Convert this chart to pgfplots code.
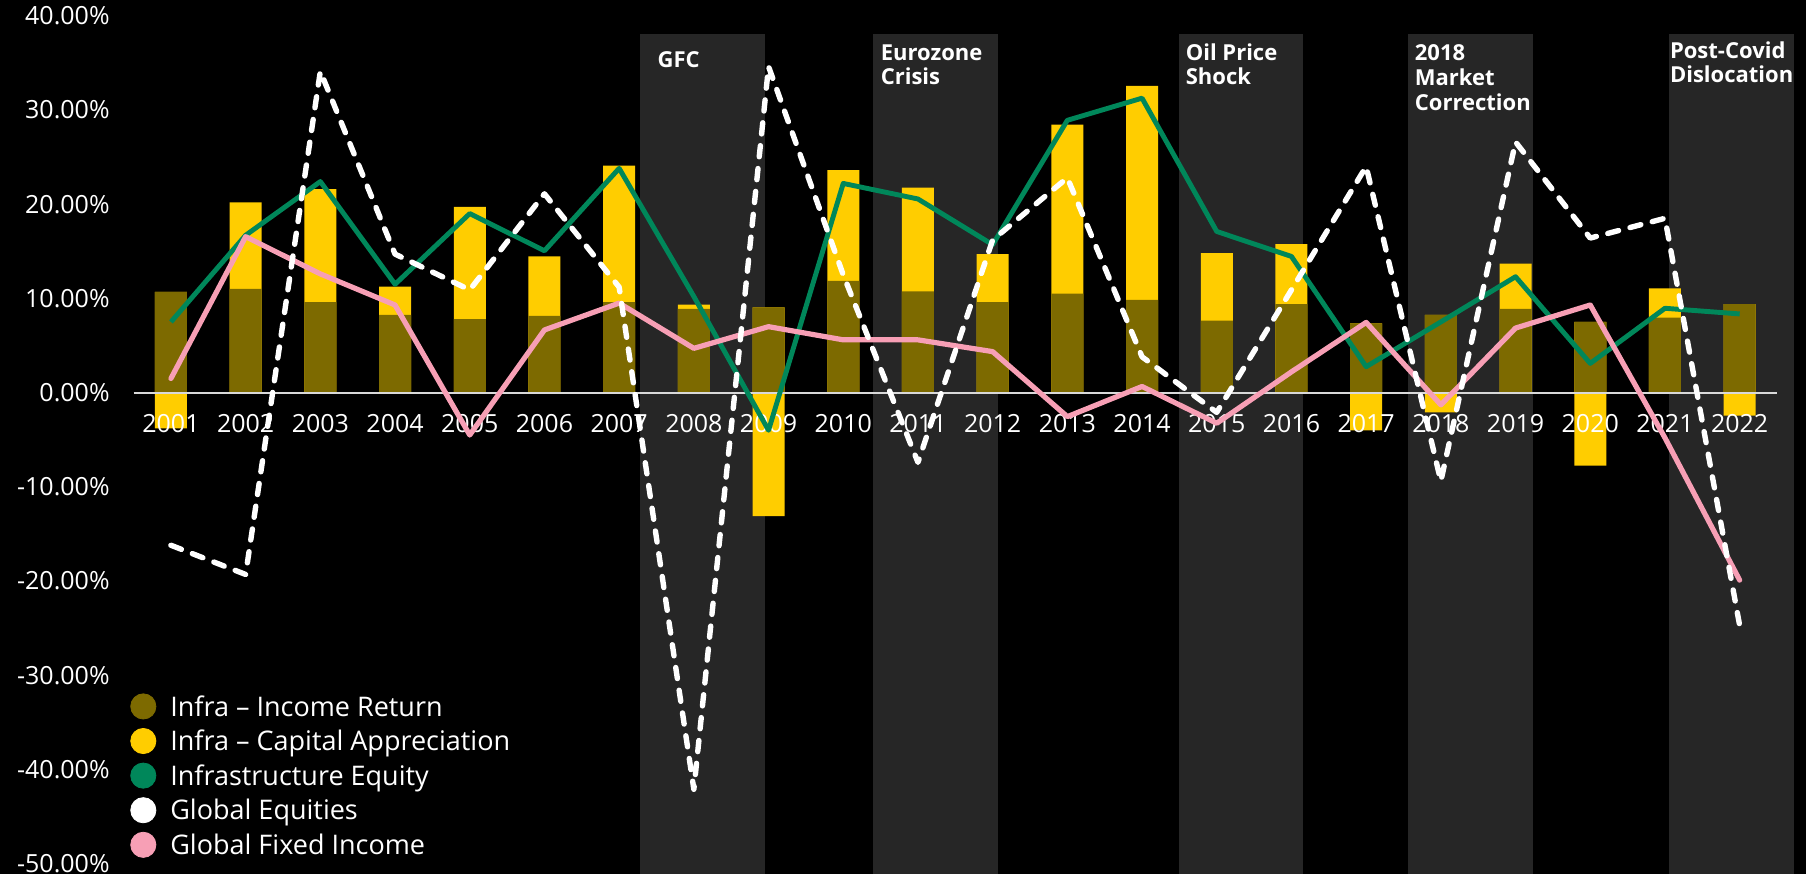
\documentclass[border=0pt]{standalone}
\usepackage{fontspec}
\setmainfont{Open Sans}
\usepackage{pgfplots}
\usepackage{pgfplotstable}
\pgfplotsset{compat=1.18}
\definecolor{incomec}{HTML}{7D6A00}
\definecolor{capc}{HTML}{FFCD00}
\definecolor{greenc}{HTML}{00875A}
\definecolor{pinkc}{HTML}{F79FB5}
\definecolor{bandc}{HTML}{262626}
\definecolor{zeroc}{HTML}{D9D9D9}
\pagecolor{black}

\pgfplotstableread{
idx inc cap infra geq gfi
0 10.7 -3.8 7.5 -16.2 1.5
1 11.0 9.2 16.7 -19.3 16.55
2 9.6 12.0 22.4 34.1 12.6
3 8.25 3.0 11.5 14.7 9.3
4 7.8 11.9 19.0 10.9 -4.5
5 8.15 6.3 15.05 21.1 6.65
6 9.6 14.5 23.8 11.2 9.5
7 8.9 0.45 10.2 -42.1 4.7
8 9.05 -13.1 -4.0 34.6 7.0
9 11.85 11.75 22.2 12.5 5.6
10 10.75 11.0 20.55 -7.4 5.6
11 9.6 5.1 15.7 16.2 4.35
12 10.5 17.95 28.9 22.8 -2.55
13 9.85 22.7 31.25 3.8 0.65
14 7.65 7.15 17.1 -2.1 -3.25
15 9.4 6.35 14.45 10.9 2.2
16 7.35 -4.0 2.75 24.0 7.45
17 8.25 -2.1 7.5 -9.4 -1.3
18 8.9 4.8 12.3 26.6 6.85
19 7.5 -7.75 3.1 16.4 9.3
20 7.95 3.1 8.95 18.5 -4.8
21 9.4 -2.45 8.35 -24.7 -19.9
}\data

\begin{document}
\begin{tikzpicture}
\begin{axis}[
  set layers,
  scale only axis,
  width=821.7pt, height=437pt,
  xmin=-0.5, xmax=21.5, ymin=-51.09, ymax=41.67,
  clip=false,
  axis lines*=left,
  axis line style={draw=none},
  major tick length=0pt,
  tick style={draw=none},
  xtick={0,...,21},
  xticklabels={2001,2002,2003,2004,2005,2006,2007,2008,2009,2010,2011,2012,2013,2014,2015,2016,2017,2018,2019,2020,2021,2022},
  ytick={-50,-40,-30,-20,-10,0,10,20,30,40},
  yticklabels={-50.00\%,-40.00\%,-30.00\%,-20.00\%,-10.00\%,0.00\%,10.00\%,20.00\%,30.00\%,40.00\%},
  tick label style={font=\fontsize{12.5}{15}\selectfont, text=white},
  xticklabel style={anchor=center, yshift=225.35pt},
  yticklabel style={anchor=east, inner sep=0pt, xshift=-11.8pt},
  legend cell align=left,
  legend style={at={(rel axis cs:-0.002,0.2066)}, anchor=north west, draw=none, fill=none,
    inner sep=0pt, outer sep=0pt, row sep=4.3pt, font=\fontsize{13.5}{16}\selectfont,
    text=white, nodes={inner sep=0pt, text height=10.5pt, text depth=0.9pt},
    /tikz/every odd column/.append style={column sep=7pt}},
]
% crisis bands
\addplot[on layer=axis background, fill=bandc, draw=none, forget plot] coordinates {(6.281,-51.09) (7.946,-51.09) (7.946,38.11) (6.281,38.11)} -- cycle;
\addplot[on layer=axis background, fill=bandc, draw=none, forget plot] coordinates {(9.396,-51.09) (11.07,-51.09) (11.07,38.11) (9.396,38.11)} -- cycle;
\addplot[on layer=axis background, fill=bandc, draw=none, forget plot] coordinates {(13.49,-51.09) (15.16,-51.09) (15.16,38.11) (13.49,38.11)} -- cycle;
\addplot[on layer=axis background, fill=bandc, draw=none, forget plot] coordinates {(16.56,-51.09) (18.23,-51.09) (18.23,38.11) (16.56,38.11)} -- cycle;
\addplot[on layer=axis background, fill=bandc, draw=none, forget plot] coordinates {(20.05,-51.09) (21.73,-51.09) (21.73,38.11) (20.05,38.11)} -- cycle;
% bars
\addplot[on layer=axis background, ybar, bar width=16pt, bar shift=0pt, fill=capc, draw=none, forget plot]
  table[x=idx, y expr={\thisrow{inc}+max(\thisrow{cap},0)}] {\data};
\addplot[on layer=axis background, ybar, bar width=16pt, bar shift=0pt, fill=incomec, draw=none, forget plot]
  table[x=idx, y=inc] {\data};
\addplot[on layer=axis background, ybar, bar width=16pt, bar shift=0pt, fill=capc, draw=none, forget plot]
  table[x=idx, y expr={min(\thisrow{cap},0)}] {\data};
% zero line
\addplot[on layer=axis background, zeroc, line width=1pt, forget plot] coordinates {(-0.5,0) (21.5,0)};
% lines
\addplot[greenc, line width=2.45pt, line join=round, forget plot] table[x=idx, y=infra] {\data};
\addplot[pinkc, line width=2.6pt, line join=round, line cap=round, forget plot] table[x=idx, y=gfi] {\data};
\addplot[white, line width=2.7pt, dash pattern=on 5.6pt off 5.9pt, line cap=round, line join=round, forget plot] table[x=idx, y=geq] {\data};
% legend
\addlegendimage{legend image code/.code={\fill[incomec] (0pt,0pt) circle (6.3pt);}}
\addlegendentry{Infra – Income Return}
\addlegendimage{legend image code/.code={\fill[capc] (0pt,0pt) circle (6.3pt);}}
\addlegendentry{Infra – Capital Appreciation}
\addlegendimage{legend image code/.code={\fill[greenc] (0pt,0pt) circle (6.3pt);}}
\addlegendentry{Infrastructure Equity}
\addlegendimage{legend image code/.code={\fill[white] (0pt,0pt) circle (6.3pt);}}
\addlegendentry{Global Equities}
\addlegendimage{legend image code/.code={\fill[pinkc] (0pt,0pt) circle (6.3pt);}}
\addlegendentry{Global Fixed Income}
% band labels
\tikzset{bl/.style={anchor=base west, text=white, inner sep=0pt, font=\bfseries\fontsize{11}{13}\selectfont}}
\node[bl] at (axis cs:6.511,34.50) {GFC};
\node[bl] at (axis cs:9.498,35.29) {Eurozone};
\node[bl] at (axis cs:9.498,32.66) {Crisis};
\node[bl] at (axis cs:13.581,35.29) {Oil Price};
\node[bl] at (axis cs:13.581,32.66) {Shock};
\node[bl] at (axis cs:16.647,35.29) {2018};
\node[bl] at (axis cs:16.647,32.58) {Market};
\node[bl] at (axis cs:16.647,29.89) {Correction};
\node[bl] at (axis cs:20.063,35.50) {Post-Covid};
\node[bl] at (axis cs:20.063,32.88) {Dislocation};
\end{axis}
\pgfresetboundingbox
\path[use as bounding box] (-66.8pt,0pt) rectangle (836.2pt,437pt);
\end{tikzpicture}
\end{document}
